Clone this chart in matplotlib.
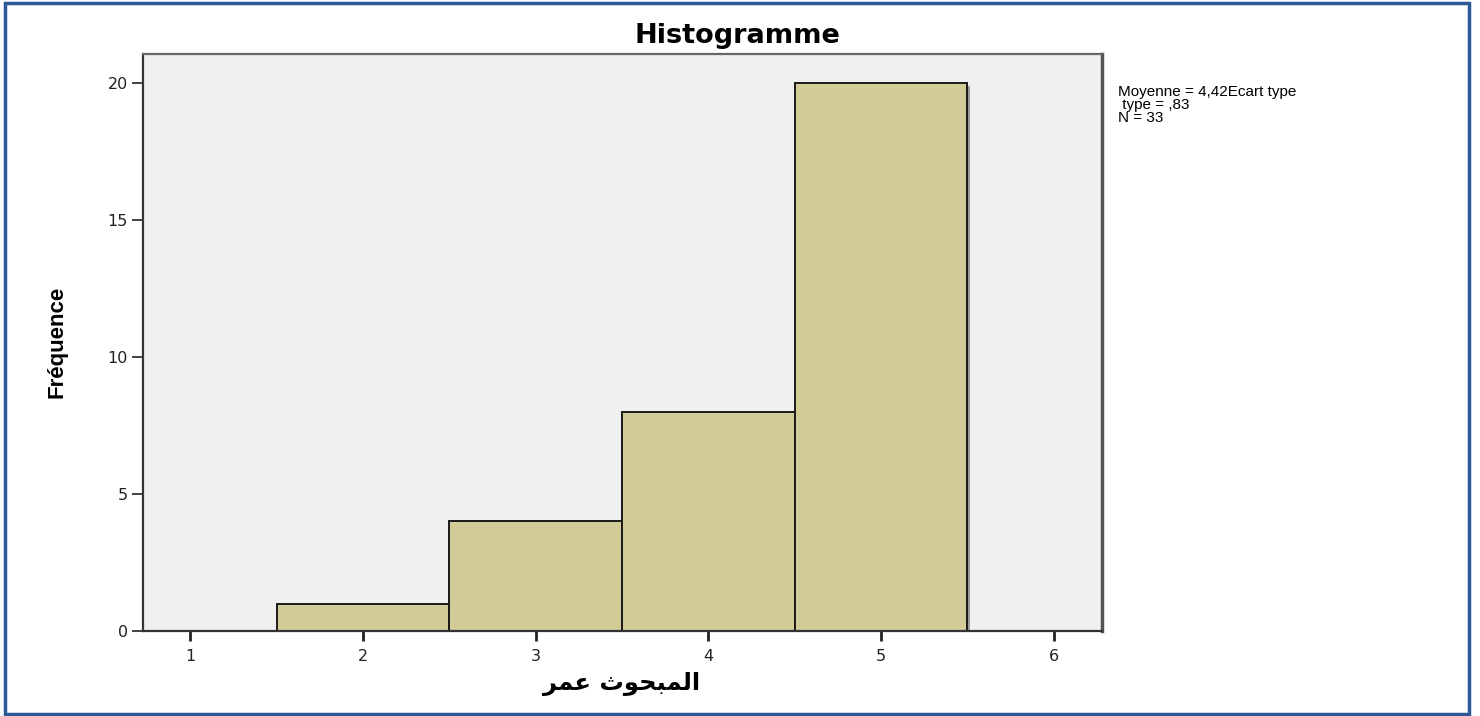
import matplotlib.pyplot as plt
import matplotlib.patheffects as pe
from matplotlib.patches import Rectangle

# données
classes = [1, 2, 3, 4, 5, 6]
effectifs = [0, 1, 4, 8, 20, 0]
yticks = [0, 5, 10, 15, 20]
stats_txt = "Moyenne = 4,42Ecart type\n type = ,83\nN = 33"
# "المبحوث عمر" en formes de présentation, ordre visuel
xlab = "\uFEAE\uFEE4\uFECB \uFE99\uFEEE\uFEA4\uFE92\uFEE4\uFEDF\uFE8D"

plt.rcParams['font.family'] = ['Liberation Sans', 'DejaVu Sans']

fig = plt.figure(figsize=(14.8, 7.16), dpi=100)
ax = fig.add_axes([143/1480, 85/716, (1102-143)/1480, (631-54)/716])
ax.set_facecolor('#f0f0f0')

shadow = [pe.SimplePatchShadow(offset=(2, -2), shadow_rgbFace='#777777', alpha=0.7), pe.Normal()]
bars = ax.bar(classes, effectifs, width=1.0, color='#d2cd96', edgecolor='#1a1a1a', linewidth=1.4)
for b in bars:
    if b.get_height() > 0:
        b.set_path_effects(shadow)

ax.set_xlim(0.725, 6.28)
ax.set_ylim(0, 21.05)
ax.set_xticks(classes)
ax.set_yticks(yticks)
ax.tick_params(axis='both', direction='out', length=8, width=1.2, colors='#222222', labelsize=11.5, pad=3)
ax.tick_params(axis='x', length=7, width=2, pad=6)
for lbl in ax.get_xticklabels() + ax.get_yticklabels():
    lbl.set_family(['DejaVu Sans'])
for s in ax.spines.values():
    s.set_color('#333333')
    s.set_linewidth(1.6)
ax.spines['right'].set_color('#555555')
ax.spines['right'].set_linewidth(2.5)
ax.spines['top'].set_color('#666666')

fig.text(737/1480, 1 - 36/716, "Histogramme", ha='center', va='center', fontsize=19.5,
         fontweight='bold', family=['DejaVu Sans'])
fig.text(57/1480, 1 - 342/716, "Fréquence", rotation=90, ha='center', va='center',
         fontsize=16, fontweight='bold', family=['Liberation Sans Narrow', 'Liberation Sans', 'DejaVu Sans'])
fig.text(622/1480, 1 - 684/716, xlab, ha='center', va='center', fontsize=17.5, fontweight='bold',
         family=['DejaVu Sans'])
fig.text(1118/1480, 1 - 85/716, stats_txt, ha='left', va='top', fontsize=11, linespacing=0.92)

# cadre bleu
fig.patches.append(Rectangle((5/1480, 2/716), 1464/1480, 711/716, transform=fig.transFigure,
                             fill=False, edgecolor='#2b5797', linewidth=2.5))

fig.savefig('out.png', dpi=100)
